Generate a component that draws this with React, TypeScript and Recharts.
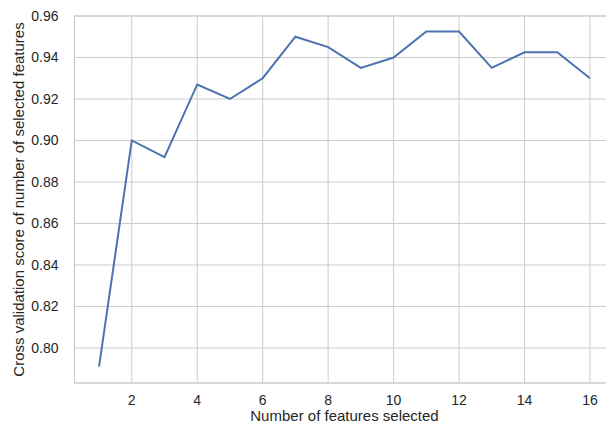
import { CartesianGrid, Line, LineChart, ReferenceArea, XAxis, YAxis } from "recharts";

// number of features selected vs. cross-validation score
const features = [1, 2, 3, 4, 5, 6, 7, 8, 9, 10, 11, 12, 13, 14, 15, 16];
const scores = [0.791, 0.9, 0.892, 0.927, 0.92, 0.93, 0.95, 0.945, 0.935, 0.94, 0.9525, 0.9525, 0.935, 0.9425, 0.9425, 0.93];
const xTicks = [2, 4, 6, 8, 10, 12, 14, 16];
const yTicks = [0.8, 0.82, 0.84, 0.86, 0.88, 0.9, 0.92, 0.94, 0.96];

const data = features.map((n, i) => ({ n, score: scores[i] }));

const xDomain: [number, number] = [0.25, 16.75];
const yDomain: [number, number] = [0.7831, 0.96];

const font = "'Liberation Sans', Arial, sans-serif";
const tickStyle = { fontSize: 14, fill: "#262626", fontFamily: font };

export default function App() {
  return (
    <div style={{ position: "absolute", left: 0, top: 0, width: 606, height: 425, overflow: "hidden", background: "#fff" }}>
      <LineChart width={630} height={425} data={data} margin={{ top: 16, right: 15.5, bottom: 4, left: 0 }}>
        <CartesianGrid stroke="#cccccc" strokeWidth={1} />
        <ReferenceArea
          x1={xDomain[0]}
          x2={xDomain[1]}
          y1={yDomain[0]}
          y2={yDomain[1]}
          fill="none"
          stroke="#cccccc"
          strokeWidth={1.2}
          ifOverflow="visible"
        />
        <XAxis
          dataKey="n"
          type="number"
          domain={xDomain}
          ticks={xTicks}
          allowDataOverflow
          height={38}
          axisLine={false}
          tickLine={false}
          tick={tickStyle}
          tickMargin={6}
          label={{ value: "Number of features selected", position: "insideBottom", offset: 0, style: { fontSize: 15, fill: "#262626", fontFamily: font } }}
        />
        <YAxis
          type="number"
          domain={yDomain}
          ticks={yTicks}
          allowDataOverflow
          width={74.5}
          axisLine={false}
          tickLine={false}
          tick={tickStyle}
          tickMargin={10}
          tickFormatter={(v: number) => v.toFixed(2)}
          label={{
            value: "Cross validation score of number of selected features",
            angle: -90,
            position: "insideLeft",
            offset: 19,
            style: { fontSize: 15, fill: "#262626", fontFamily: font, textAnchor: "middle" },
          }}
        />
        <Line
          dataKey="score"
          stroke="#4c72b0"
          strokeWidth={2}
          dot={false}
          isAnimationActive={false}
        />
      </LineChart>
    </div>
  );
}
